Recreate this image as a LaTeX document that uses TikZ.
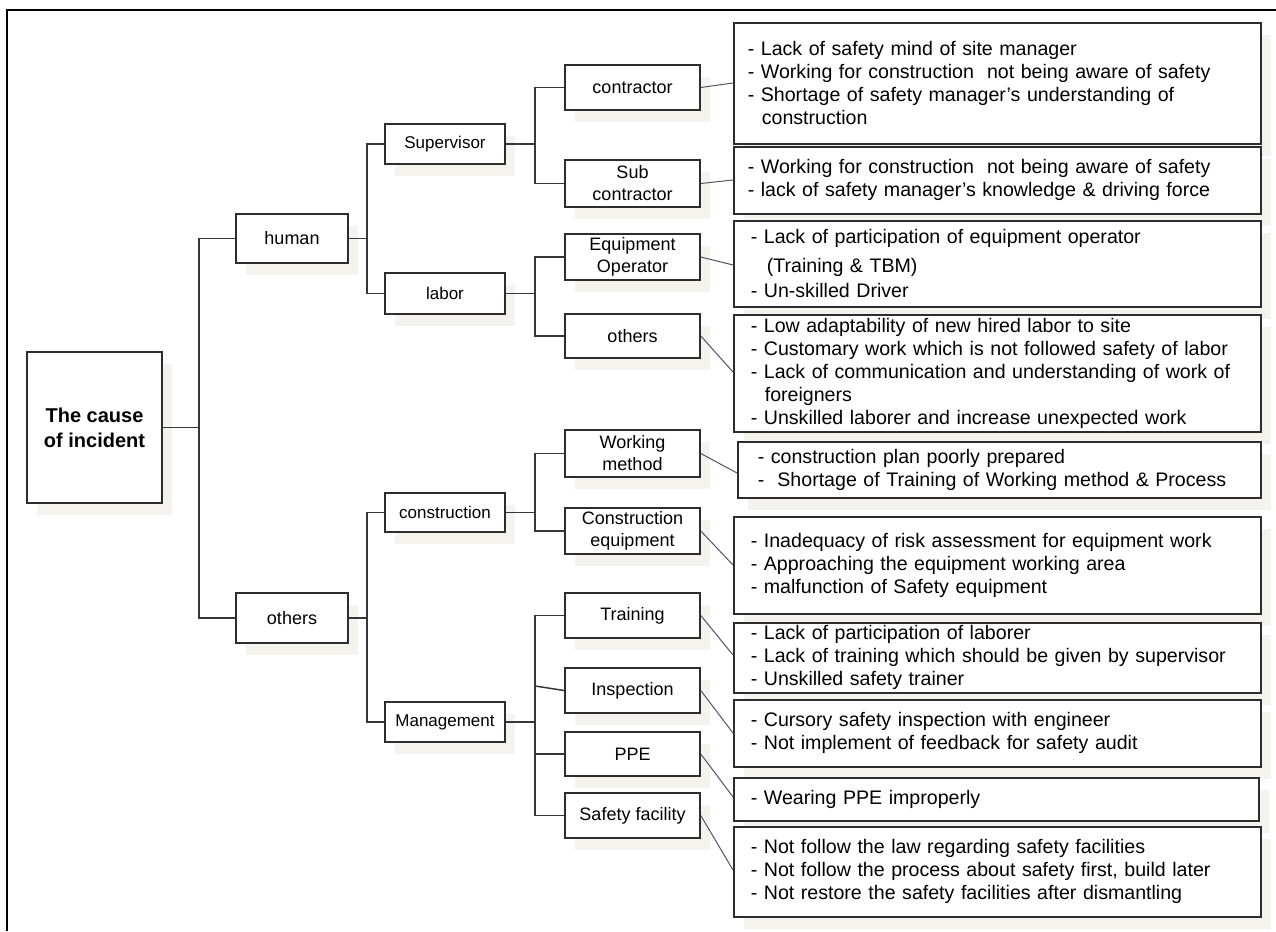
\documentclass[tikz,border=0pt]{standalone}
\usepackage{fontspec}
\setmainfont{Liberation Sans}
\usetikzlibrary{shadows,calc}
\definecolor{boxline}{RGB}{45,45,45}
\definecolor{shade}{RGB}{244,243,238}
\definecolor{connc}{RGB}{55,55,55}
\definecolor{diagc}{RGB}{85,85,85}
\begin{document}
\begin{tikzpicture}[x=1pt,y=-1pt,
  base/.style={draw=boxline, line width=1.6pt, fill=white,
    general shadow={fill=shade, shadow xshift=10pt, shadow yshift=-12pt},
    inner sep=0pt, align=center},
  rootbox/.style={base, minimum width=135pt, minimum height=151pt, font=\bfseries\fontsize{20}{25}\selectfont},
  lvlone/.style={base, minimum width=112pt, font=\fontsize{18}{21}\selectfont},
  lvltwo/.style={base, minimum width=120pt, font=\fontsize{17}{20}\selectfont},
  lvlthree/.style={base, minimum width=135pt, font=\fontsize{18}{22}\selectfont},
  rbox/.style={base, anchor=north west, align=left, inner xsep=17pt, text width=493pt,
    font=\fontsize{19.6}{23}\selectfont},
  conn/.style={draw=connc, line width=1.5pt},
  diagline/.style={draw=diagc, line width=1pt}
]
\useasboundingbox (0,0) rectangle (1276,931);
% frame
\draw[line width=1.4pt, black] (1276,10) -- (7,10) -- (7,931);

% tree nodes
\node[rootbox] (root) at (94.5,427.5) {The cause\\of incident};
\node[lvlone, minimum height=49pt] (human) at (292,238.5) {human};
\node[lvlone, minimum height=50pt] (oth) at (292,618) {others};

\node[lvltwo, minimum height=40pt] (sup) at (445,144) {Supervisor};
\node[lvltwo, minimum height=41pt] (lab) at (445,293.5) {labor};
\node[lvltwo, minimum height=39pt] (cons) at (445,512.5) {construction};
\node[lvltwo, minimum height=40pt] (mgmt) at (445,722) {Management};

\node[lvlthree, minimum height=45pt] (contr) at (632.5,87.5) {contractor};
\node[lvlthree, minimum height=47pt] (sub) at (632.5,183.5) {Sub\\contractor};
\node[lvlthree, minimum height=46pt] (eqop) at (632.5,257) {Equipment\\Operator};
\node[lvlthree, minimum height=44pt] (oth2) at (632.5,336) {others};
\node[lvlthree, minimum height=47pt] (wm) at (632.5,453.5) {Working\\method};
\node[lvlthree, minimum height=46pt] (ceq) at (632.5,531) {Construction\\equipment};
\node[lvlthree, minimum height=45pt] (train) at (632.5,615.5) {Training};
\node[lvlthree, minimum height=45pt] (insp) at (632.5,690.5) {Inspection};
\node[lvlthree, minimum height=44pt] (ppe) at (632.5,754) {PPE};
\node[lvlthree, minimum height=45pt] (safe) at (632.5,815.5) {Safety facility};

% right boxes
\node[rbox, minimum height=121pt, inner xsep=14pt, text width=499pt] (rA) at (733,22) {%
- Lack of safety mind of site manager\\
- Working for construction\ \ not being aware of safety\\
- Shortage of safety manager’s understanding of\\
\hspace*{14pt}construction};
\node[rbox, minimum height=67pt, inner xsep=14pt, text width=499pt] (rB) at (733,146) {%
- Working for construction\ \ not being aware of safety\\
- lack of safety manager’s knowledge \& driving force};
\node[rbox, minimum height=86pt] (rC) at (733,220) {%
- Lack of participation of equipment operator\\[6pt]
\hspace*{16pt}(Training \& TBM)\\[2pt]
- Un-skilled Driver};
\node[rbox, minimum height=117pt] (rD) at (733,314) {%
- Low adaptability of new hired labor to site\\
- Customary work which is not followed safety of labor\\
- Lack of communication and understanding of work of\\
\hspace*{14pt}foreigners\\
- Unskilled laborer and increase unexpected work};
\node[rbox, minimum height=56pt, inner xsep=20pt, text width=483pt] (rE) at (737,441) {%
- construction plan poorly prepared\\
-\ \ Shortage of Training of Working method \& Process};
\node[rbox, minimum height=97pt] (rF) at (733,516) {%
- Inadequacy of risk assessment for equipment work\\
- Approaching the equipment working area\\
- malfunction of Safety equipment};
\node[rbox, minimum height=70pt] (rG) at (733,622) {%
- Lack of participation of laborer\\
- Lack of training which should be given by supervisor\\
- Unskilled safety trainer};
\node[rbox, minimum height=67pt] (rH) at (733,699) {%
- Cursory safety inspection with engineer\\
- Not implement of feedback for safety audit};
\node[rbox, minimum height=43pt, text width=491pt] (rI) at (733,777) {%
- Wearing PPE improperly};
\node[rbox, minimum height=90pt] (rJ) at (733,826) {%
- Not follow the law regarding safety facilities\\
- Not follow the process about safety first, build later\\
- Not restore the safety facilities after dismantling};

% spine coordinates
\coordinate (s1) at (199,0);
\coordinate (s2) at (367,0);
\coordinate (s3) at (535,0);

% tree connectors
\draw[conn] (root.east) -- (root.east -| s1);
\draw[conn] (human.west) -- (human.west -| s1) -- (oth.west -| s1) -- (oth.west);
\draw[conn] (human.east) -- (human.east -| s2);
\draw[conn] (sup.west) -- (sup.west -| s2) -- (lab.west -| s2) -- (lab.west);
\draw[conn] (oth.east) -- (oth.east -| s2);
\draw[conn] (cons.west) -- (cons.west -| s2) -- (mgmt.west -| s2) -- (mgmt.west);

\draw[conn] (sup.east) -- (sup.east -| s3);
\draw[conn] (contr.west) -- (contr.west -| s3) -- (sub.west -| s3) -- (sub.west);
\draw[conn] (lab.east) -- (lab.east -| s3);
\draw[conn] (eqop.west) -- (eqop.west -| s3) -- (oth2.west -| s3) -- (oth2.west);
\draw[conn] (cons.east) -- (cons.east -| s3);
\draw[conn] (wm.west) -- (wm.west -| s3) -- (ceq.west -| s3) -- (ceq.west);
\draw[conn] (mgmt.east) -- (mgmt.east -| s3);
\draw[conn] (train.west) -- (train.west -| s3) -- (safe.west -| s3) -- (safe.west);
\draw[conn] (insp.west) -- (s3 |- 0,686);
\draw[conn] (ppe.west) -- (ppe.west -| s3);

% diagonal connectors
\draw[diagline] (contr.east) -- (rA.west |- 0,83);
\draw[diagline] (sub.east) -- (rB.west |- 0,180);
\draw[diagline] (eqop.east) -- (rC.west |- 0,265);
\draw[diagline] (oth2.east) -- (rD.west |- 0,372);
\draw[diagline] (wm.east) -- (rE.west |- 0,473);
\draw[diagline] (ceq.east) -- (rF.west |- 0,565);
\draw[diagline] (train.east) -- (rG.west |- 0,655);
\draw[diagline] (insp.east) -- (rH.west |- 0,733);
\draw[diagline] (ppe.east) -- (rI.west |- 0,797);
\draw[diagline] (safe.east) -- (rJ.west |- 0,870);
\end{tikzpicture}
\end{document}
